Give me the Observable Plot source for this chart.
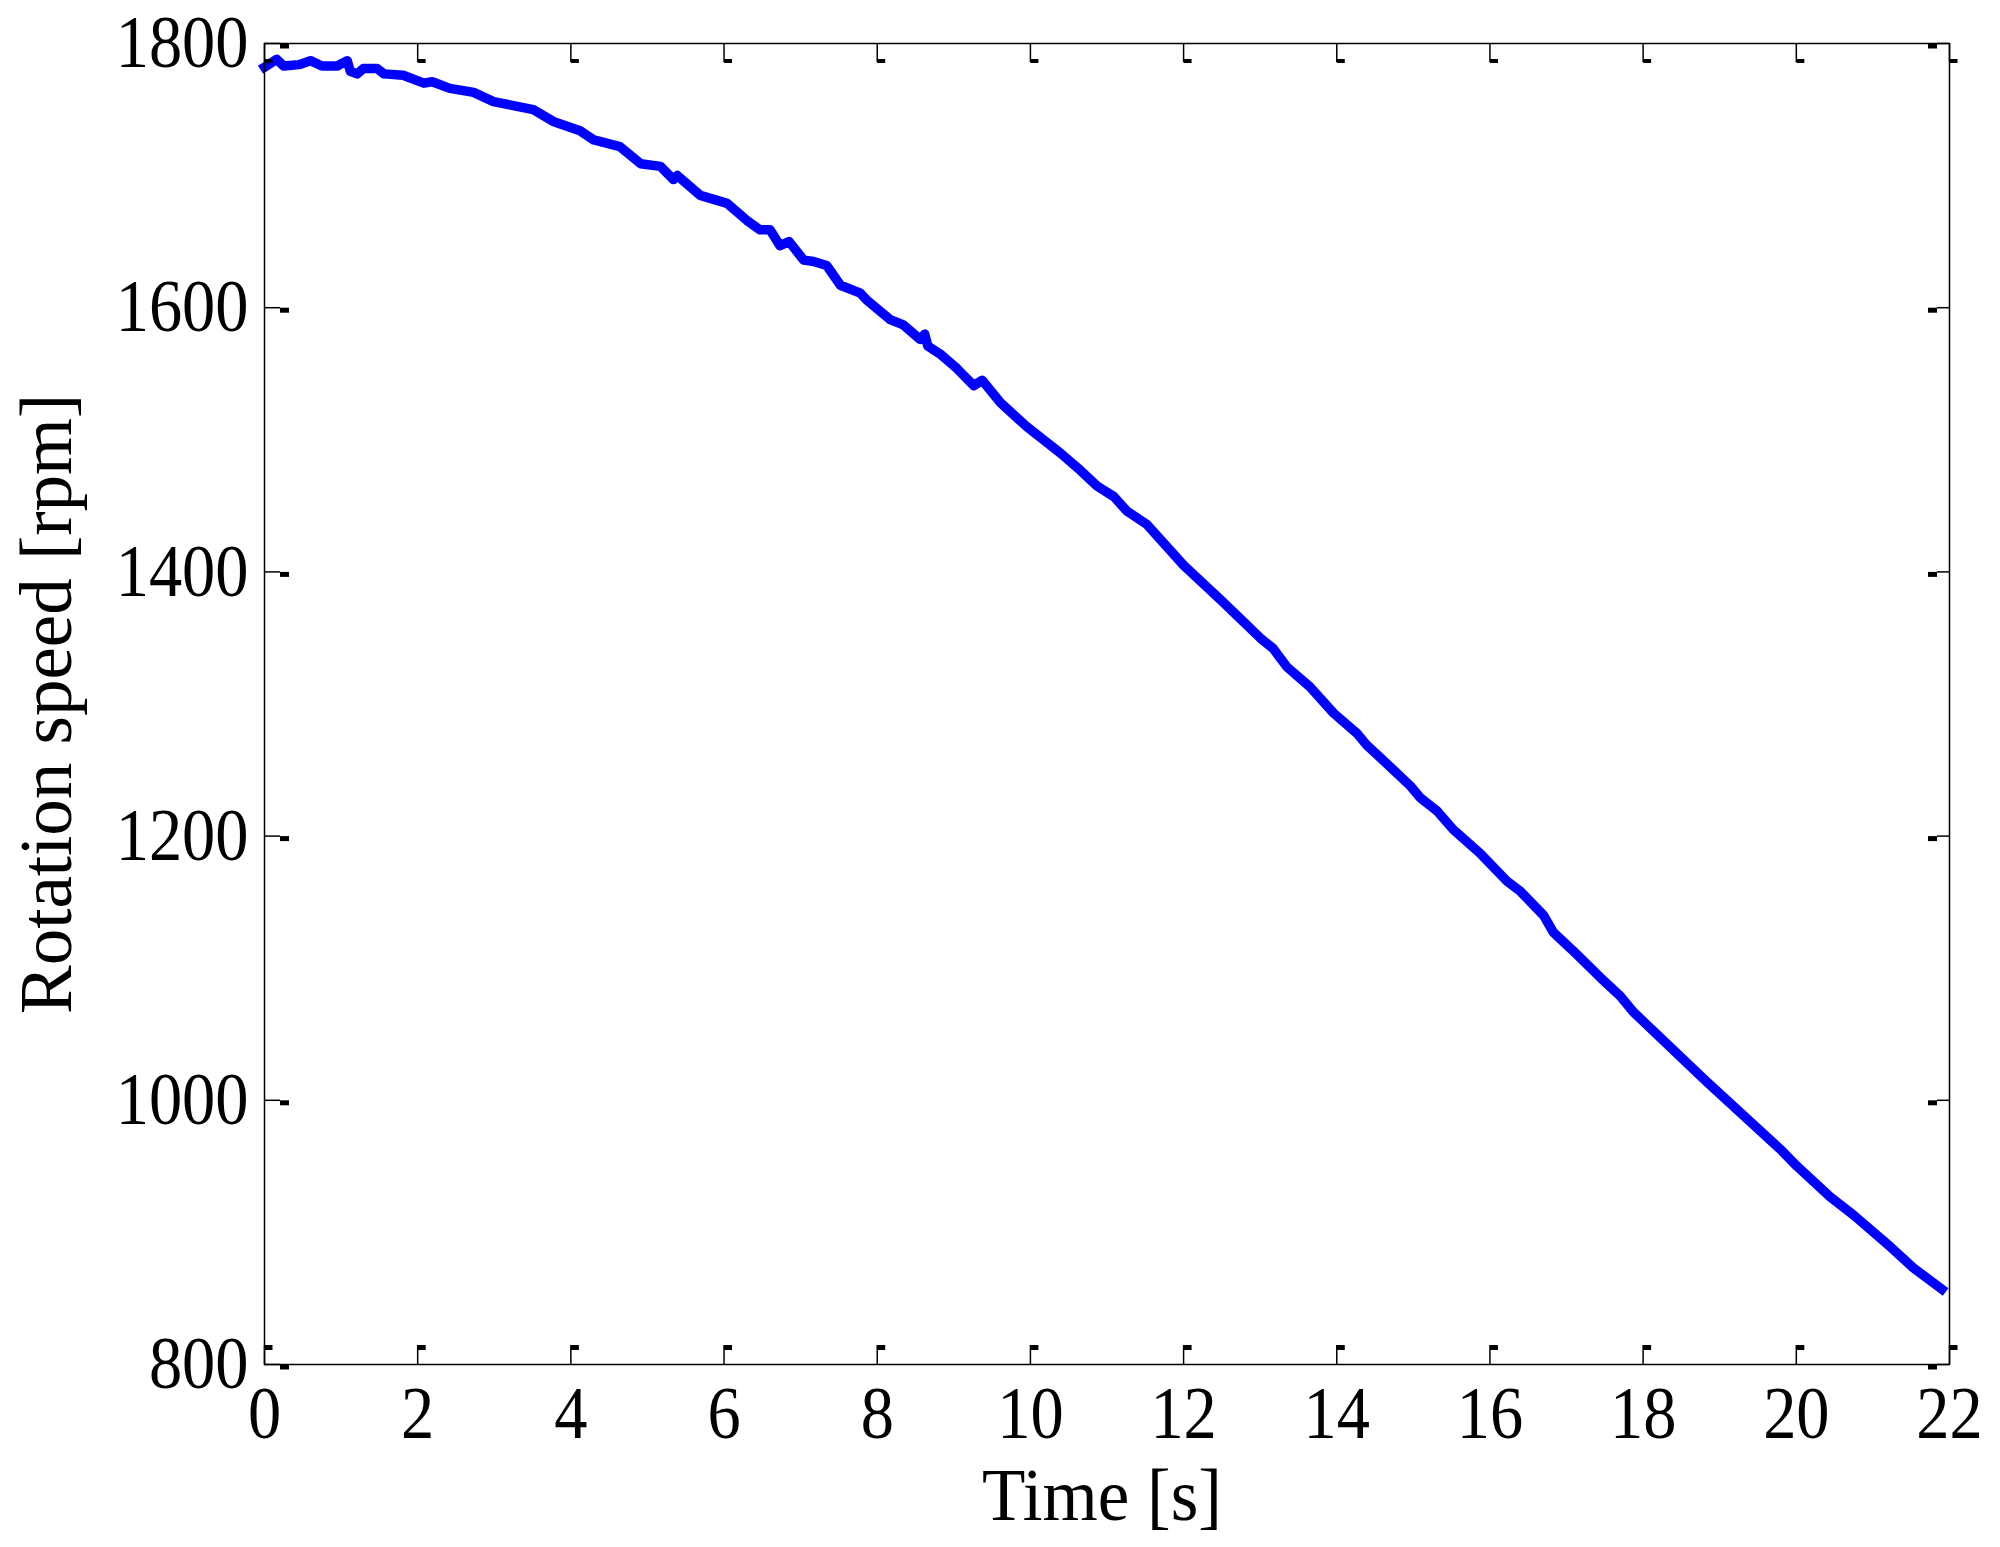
<!DOCTYPE html>
<html>
<head>
<meta charset="utf-8">
<script src="https://cdn.jsdelivr.net/npm/d3@7"></script>
<script src="https://cdn.jsdelivr.net/npm/@observablehq/plot@0.6"></script>
<style>
  html, body { margin: 0; padding: 0; background: #ffffff; }
  #chart svg { display: block; }
</style>
</head>
<body>
<div id="chart"></div>
<script>
// ---- data ----
const time = [
  0.00, 0.16, 0.25, 0.45, 0.60, 0.75, 0.95, 1.08, 1.12, 1.21, 1.29, 1.47, 1.56, 1.81,
  2.08, 2.19, 2.42, 2.73, 2.99, 3.25, 3.51, 3.77, 4.12, 4.30, 4.64, 4.91, 5.17, 5.34,
  5.39, 5.69, 6.04, 6.30, 6.47, 6.60, 6.73, 6.85, 7.04, 7.17, 7.34, 7.52, 7.78, 7.86,
  8.17, 8.34, 8.56, 8.62, 8.66, 8.82, 9.04, 9.26, 9.37, 9.61, 9.95, 10.39, 10.65, 10.87,
  11.09, 11.26, 11.52, 12.00, 12.50, 13.00, 13.17, 13.35, 13.65, 13.96, 14.26, 14.39,
  14.65, 14.96, 15.09, 15.31, 15.52, 15.87, 16.22, 16.40, 16.70, 16.83, 17.07, 17.44,
  17.70, 17.87, 18.83, 19.79, 20.01, 20.44, 20.75, 21.23, 21.53, 21.90
];
const speed = [
  1782, 1788, 1783, 1784, 1787, 1783, 1783, 1787, 1779, 1777, 1781, 1781, 1777, 1776,
  1770, 1771, 1766, 1763, 1756, 1753, 1750, 1741, 1734, 1727, 1722, 1709, 1707, 1697,
  1700, 1685, 1679, 1666, 1659, 1659, 1647, 1650, 1636, 1635, 1632, 1617, 1611, 1606,
  1591, 1587, 1576, 1580, 1571, 1565, 1554, 1541, 1545, 1528, 1510, 1490, 1477, 1465,
  1457, 1446, 1436, 1405, 1378, 1350, 1342, 1328, 1313, 1293, 1278, 1269,
  1255, 1238, 1229, 1219, 1205, 1187, 1166, 1158, 1140, 1127, 1114, 1093,
  1079, 1067, 1014, 963, 950, 927, 913, 889, 873, 857
];
const xTicks = [0, 2, 4, 6, 8, 10, 12, 14, 16, 18, 20, 22];
const yTicks = [800, 1000, 1200, 1400, 1600, 1800];
const xLabel = "Time [s]";
const yLabel = "Rotation speed [rpm]";

// ---- layout ----
const W = 2000, H = 1547;
const mL = 264, mR = 51, mT = 43, mB = 183;
const frameW = W - mL - mR, frameH = H - mT - mB;
const font = "'Liberation Serif', 'Times New Roman', Times, serif";

const data = time.map((t, i) => ({t, v: speed[i]}));
const plain = d => String(d);

const chart = Plot.plot({
  width: W,
  height: H,
  marginLeft: mL,
  marginRight: mR,
  marginTop: mT,
  marginBottom: mB,
  style: {fontFamily: font, background: "#ffffff", color: "#000000", overflow: "visible"},
  x: {domain: [0, 22], ticks: xTicks, label: null},
  y: {domain: [800, 1800], ticks: yTicks, label: null},
  marks: [
    Plot.line(data, {x: "t", y: "v", stroke: "#0000ff", strokeWidth: 9.5,
      strokeLinejoin: "round", strokeLinecap: "square"}),
    Plot.frame({stroke: "#000000", strokeWidth: 1.5}),
    // inward tick marks (bottom / top)
    Plot.tickX(xTicks, {x: d => d, stroke: "#000", strokeWidth: 1.5, insetTop: frameH - 19}),
    Plot.tickX(xTicks, {x: d => d, stroke: "#000", strokeWidth: 1.5, insetBottom: frameH - 19}),
    // small tick feet
    Plot.tickX(xTicks, {x: d => d, stroke: "#000", strokeWidth: 8, dx: 4, insetTop: frameH - 19, insetBottom: 14}),
    Plot.tickX(xTicks, {x: d => d, stroke: "#000", strokeWidth: 8, dx: 4, insetTop: 16, insetBottom: frameH - 20}),
    // inward tick marks (left / right)
    Plot.tickY(yTicks, {y: d => d, stroke: "#000", strokeWidth: 1.5, insetRight: frameW - 16}),
    Plot.tickY(yTicks, {y: d => d, stroke: "#000", strokeWidth: 1.5, insetLeft: frameW - 12}),
    Plot.tickY(yTicks, {y: d => d, stroke: "#000", strokeWidth: 5, dy: 2.5, insetLeft: 16, insetRight: frameW - 25}),
    Plot.tickY(yTicks, {y: d => d, stroke: "#000", strokeWidth: 5, dy: 2.5, insetLeft: frameW - 21, insetRight: 12}),
    // tick labels
    Plot.axisX(xTicks, {anchor: "bottom", tickSize: 0, tickPadding: 21, fontSize: 74, fill: "#000", tickFormat: plain}),
    Plot.axisY(yTicks, {anchor: "left", tickSize: 0, tickPadding: 16, fontSize: 74, fill: "#000", tickFormat: plain}),
    // axis titles
    Plot.text([xLabel], {text: d => d, frameAnchor: "bottom", textAnchor: "middle", lineAnchor: "top",
      dy: 104, dx: -5, fontSize: 73, fill: "#000"}),
    Plot.text([yLabel], {text: d => d, frameAnchor: "left", textAnchor: "middle", rotate: -90,
      lineAnchor: "middle", dx: -217, fontSize: 74, fill: "#000"})
  ]
});

document.getElementById("chart").appendChild(chart);

// narrow the tick-label digits like the reference's font
d3.select(chart).selectAll('g[aria-label="x-axis tick label"] text, g[aria-label="y-axis tick label"] text')
  .each(function () {
    const s = this.textContent;
    this.setAttribute("textLength", String(s.length * 33.2));
    this.setAttribute("lengthAdjust", "spacingAndGlyphs");
  });
d3.select(chart).selectAll('g[aria-label="text"] text').each(function () {
  const s = this.textContent;
  if (s === xLabel) { this.setAttribute("textLength", "240"); this.setAttribute("lengthAdjust", "spacingAndGlyphs"); }
  if (s === yLabel) { this.setAttribute("textLength", "620"); this.setAttribute("lengthAdjust", "spacingAndGlyphs"); }
});
</script>
</body>
</html>
